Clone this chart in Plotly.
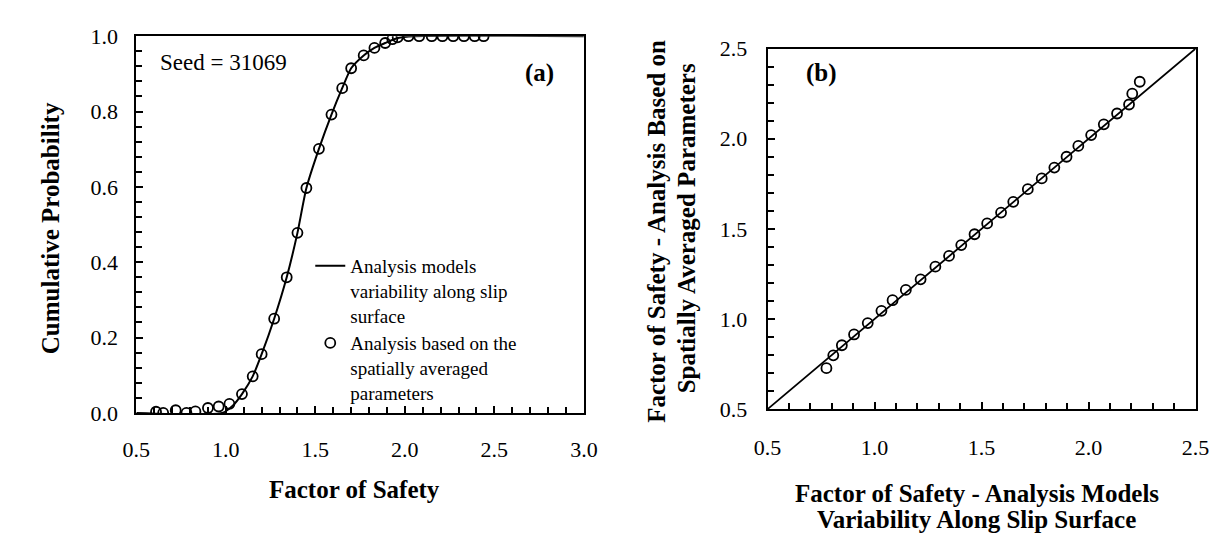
import plotly.graph_objects as go

# ---------------- data ----------------
# (a) cumulative probability of factor of safety
avg_fs = [0.61, 0.65, 0.72, 0.78, 0.83, 0.90, 0.96, 1.02, 1.09, 1.15, 1.20, 1.27,
          1.34, 1.40, 1.45, 1.52, 1.59, 1.65, 1.70, 1.77, 1.83, 1.89, 1.93, 1.96,
          2.02, 2.08, 2.15, 2.21, 2.27, 2.33, 2.39, 2.44]
avg_cp = [0.003, 0.0, 0.007, 0.0, 0.004, 0.013, 0.017, 0.024, 0.05, 0.097, 0.156, 0.25,
          0.36, 0.478, 0.597, 0.701, 0.792, 0.862, 0.915, 0.949, 0.969, 0.982, 0.992, 0.997,
          1.0, 1.0, 1.0, 1.0, 1.0, 1.0, 1.0, 1.0]
var_fs = [0.5, 0.98, 1.04, 1.09, 1.15, 1.20, 1.27, 1.34, 1.40, 1.45, 1.52, 1.59,
          1.65, 1.70, 1.77, 1.83, 1.89, 1.96, 2.05, 3.0]
var_cp = [0.0, 0.0, 0.02, 0.05, 0.097, 0.156, 0.25, 0.36, 0.478, 0.597, 0.701, 0.792,
          0.862, 0.915, 0.949, 0.969, 0.982, 0.995, 1.0, 1.0]

# (b) factor of safety comparison
fs_var_model = [0.775, 0.807, 0.847, 0.904, 0.968, 1.032, 1.084, 1.146, 1.215, 1.284,
                1.348, 1.405, 1.467, 1.526, 1.591, 1.648, 1.716, 1.781, 1.840, 1.897,
                1.952, 2.012, 2.071, 2.133, 2.189, 2.204, 2.239]
fs_avg_model = [0.727, 0.798, 0.854, 0.914, 0.977, 1.045, 1.104, 1.161, 1.22, 1.29,
                1.35, 1.41, 1.47, 1.53, 1.59, 1.65, 1.72, 1.78, 1.84, 1.90,
                1.96, 2.02, 2.08, 2.14, 2.19, 2.25, 2.316]
diag = [0.5, 2.5]

W, H = 1227, 539
def fx(p):
    return p / W
def fy(p):
    return 1 - p / H

SERIF = "Liberation Serif"
TITLE_SIZE = 25

fig = go.Figure()
fig.add_trace(go.Scatter(
    x=var_fs, y=var_cp, mode="lines", line=dict(color="black", width=2, shape="spline", smoothing=0.6),
    name="Analysis models<br>variability along slip<br>surface", xaxis="x", yaxis="y"))
fig.add_trace(go.Scatter(
    x=avg_fs, y=avg_cp, mode="markers",
    marker=dict(symbol="circle-open", size=10, color="black", line=dict(width=1.8)),
    name="Analysis based on the<br>spatially averaged<br>parameters", xaxis="x", yaxis="y"))
fig.add_trace(go.Scatter(
    x=diag, y=diag, mode="lines", line=dict(color="black", width=1.8),
    showlegend=False, xaxis="x2", yaxis="y2"))
fig.add_trace(go.Scatter(
    x=fs_var_model, y=fs_avg_model, mode="markers",
    marker=dict(symbol="circle-open", size=10, color="black", line=dict(width=1.8)),
    showlegend=False, xaxis="x2", yaxis="y2"))

tickfont = dict(family=SERIF, size=22, color="black")
common = dict(showline=True, linecolor="black", linewidth=2, mirror=True,
              ticks="inside", ticklen=7, tickwidth=1.5, tickcolor="black",
              showgrid=False, zeroline=False, tickfont=tickfont, tickformat=".1f")
minor = dict(ticks="inside", ticklen=6, tickcolor="black", tickwidth=1.5)

fig.update_layout(
    width=W, height=H,
    margin=dict(l=0, r=0, t=0, b=0),
    paper_bgcolor="white", plot_bgcolor="white",
    xaxis=dict(domain=[fx(117), fx(575)], range=[0.5, 3.0], dtick=0.5, tick0=0.5,
               minor=dict(dtick=0.1, **minor), ticklabelstandoff=16,
               anchor="y", **common),
    yaxis=dict(domain=[fy(412), fy(17)], range=[0, 1.0], dtick=0.2, tick0=0,
               minor=dict(dtick=0.04, **minor), ticklabelstandoff=12,
               anchor="x", **common),
    xaxis2=dict(domain=[fx(763), fx(1201)], range=[0.5, 2.5], dtick=0.5, tick0=0.5,
                minor=dict(dtick=0.1, **minor), ticklabelstandoff=18,
                anchor="y2", **common),
    yaxis2=dict(domain=[fy(408), fy(30)], range=[0.5, 2.5], dtick=0.5, tick0=0.5,
                minor=dict(dtick=0.1, **minor), ticklabelstandoff=14,
                anchor="x2", **common),
    legend=dict(x=fx(295), y=fy(238), xanchor="left", yanchor="top",
                bgcolor="rgba(0,0,0,0)", font=dict(family=SERIF, size=19, color="black"),
                valign="top", tracegroupgap=0),
    showlegend=True,
)

ann = [
    dict(text="<b>Cumulative Probability</b>", x=fx(30), y=fy(218), textangle=-90,
         font=dict(family=SERIF, size=TITLE_SIZE)),
    dict(text="<b>Factor of Safety</b>", x=fx(340), y=fy(492),
         font=dict(family=SERIF, size=TITLE_SIZE)),
    dict(text="Seed = 31069", x=fx(139), y=fy(45), xanchor="left",
         font=dict(family=SERIF, size=23)),
    dict(text="<b>(a)</b>", x=fx(530), y=fy(56),
         font=dict(family=SERIF, size=25)),
    dict(text="<b>(b)</b>", x=fx(818), y=fy(56),
         font=dict(family=SERIF, size=25)),
    dict(text="<b>Factor of Safety - Analysis Based on</b>", x=fx(650), y=fy(222), textangle=-90,
         font=dict(family=SERIF, size=TITLE_SIZE)),
    dict(text="<b>Spatially Averaged Parameters</b>", x=fx(680), y=fy(218), textangle=-90,
         font=dict(family=SERIF, size=TITLE_SIZE)),
    dict(text="<b>Factor of Safety - Analysis Models</b>", x=fx(977), y=fy(497),
         font=dict(family=SERIF, size=TITLE_SIZE)),
    dict(text="<b>Variability Along Slip Surface</b>", x=fx(977), y=fy(524),
         font=dict(family=SERIF, size=TITLE_SIZE)),
]
for a in ann:
    a.update(xref="paper", yref="paper", showarrow=False, xanchor=a.get("xanchor", "center"),
             yanchor="middle")
    a["font"]["color"] = "black"
fig.update_layout(annotations=ann)

fig.write_html("out.html")
